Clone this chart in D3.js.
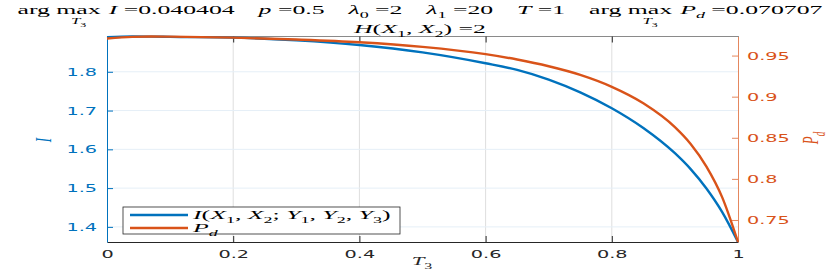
<!DOCTYPE html>
<html>
<head>
<meta charset="utf-8">
<script src="https://cdn.jsdelivr.net/npm/d3@7"></script>
<style>
body { margin: 0; background: #fff; }
text { white-space: pre; }
</style>
</head>
<body>
<div id="chart"></div>
<script>
// values
const t3 = [0, 0.04, 0.07, 0.1, 0.2, 0.3, 0.4, 0.5, 0.6, 0.65, 0.7, 0.75, 0.8, 0.85, 0.9, 0.925, 0.95, 0.975, 1];
const info = [1.889, 1.891, 1.8908, 1.890, 1.888, 1.881, 1.869, 1.850, 1.822, 1.805, 1.780, 1.747, 1.706, 1.655, 1.590, 1.549, 1.499, 1.438, 1.361];
const pd = [0.9708, 0.9727, 0.9732, 0.9730, 0.9718, 0.9695, 0.9662, 0.9606, 0.9517, 0.9452, 0.9370, 0.9265, 0.9120, 0.8920, 0.8630, 0.8425, 0.8150, 0.7775, 0.7232];

const xTicks = [0, 0.2, 0.4, 0.6, 0.8, 1];
const leftTicks = [1.4, 1.5, 1.6, 1.7, 1.8];
const rightTicks = [0.75, 0.8, 0.85, 0.9, 0.95];

const w = 830;
const h = 273;
const m = {left: 107, right: 738, top: 36.5, bottom: 242};
const sx = 1.75;
const blue = '#0072BD';
const orange = '#D95319';
const serif = '"Liberation Serif", "DejaVu Serif", serif';
const sans = '"DejaVu Sans", sans-serif';

const x = d3.scaleLinear([0, 1], [m.left, m.right]);
const yL = d3.scaleLinear([1.361, 1.891], [m.bottom, m.top]);
const yR = d3.scaleLinear([0.7232, 0.9732], [m.bottom, m.top]);

const svg = d3.select('#chart')
    .append('svg')
    .attr('width', w)
    .attr('height', h);

// rich text with italic / subscript parts
function rich(sel, parts, size) {
    const t = sel.append('text')
        .attr('font-family', serif)
        .attr('font-size', size);
    let shift = 0;
    parts.forEach(([s, st]) => {
        const sub = st === 'sub' || st === 'isub';
        const target = sub ? 0.3 * size : 0;
        t.append('tspan')
            .attr('dy', target - shift)
            .attr('font-style', (st === 'i' || st === 'isub') ? 'italic' : 'normal')
            .attr('font-size', sub ? size * 0.7 : size)
            .text(s);
        shift = target;
    });
    return t;
}

// grid
svg.append('g')
    .selectAll('line')
    .data(xTicks.slice(1, -1))
    .join('line')
    .attr('x1', d => x(d)).attr('x2', d => x(d))
    .attr('y1', m.top).attr('y2', m.bottom)
    .attr('stroke', '#dedede');

svg.append('g')
    .selectAll('line')
    .data(leftTicks)
    .join('line')
    .attr('x1', m.left).attr('x2', m.right)
    .attr('y1', d => yL(d)).attr('y2', d => yL(d))
    .attr('stroke', '#e5eff7');

// top border + top ticks
svg.append('line')
    .attr('x1', m.left).attr('x2', m.right)
    .attr('y1', m.top).attr('y2', m.top)
    .attr('stroke', '#8a8a8a');

svg.append('g')
    .attr('transform', 'translate(0,' + m.top + ')')
    .call(d3.axisTop(x).tickValues(xTicks).tickSize(-6).tickFormat(''))
    .call(g => g.select('.domain').remove())
    .call(g => g.selectAll('.tick line').attr('stroke', '#262626'));

function stretchLabels(g, color) {
    g.selectAll('.tick text')
        .attr('font-family', sans)
        .attr('font-size', 11)
        .attr('fill', color)
        .attr('x', function () { return (+d3.select(this).attr('x') || 0) / sx; })
        .attr('transform', 'scale(' + sx + ',1)');
}

// bottom axis
svg.append('g')
    .attr('transform', 'translate(0,' + m.bottom + ')')
    .call(d3.axisBottom(x).tickValues(xTicks).tickSize(-6).tickSizeOuter(0).tickPadding(8).tickFormat(d => d))
    .call(g => g.select('.domain').attr('stroke', '#262626'))
    .call(g => g.selectAll('.tick line').attr('stroke', '#262626'))
    .call(g => stretchLabels(g, '#262626'));

// left axis
svg.append('g')
    .attr('transform', 'translate(' + m.left + ',0)')
    .call(d3.axisLeft(yL).tickValues(leftTicks).tickSize(-6).tickSizeOuter(0).tickPadding(10).tickFormat(d => d))
    .call(g => g.select('.domain').attr('stroke', blue))
    .call(g => g.selectAll('.tick line').attr('stroke', blue))
    .call(g => stretchLabels(g, blue));

// right axis
svg.append('g')
    .attr('transform', 'translate(' + m.right + ',0)')
    .call(d3.axisRight(yR).tickValues(rightTicks).tickSize(-6).tickSizeOuter(0).tickPadding(9).tickFormat(d => d))
    .call(g => g.select('.domain').attr('stroke', '#e4875e'))
    .call(g => g.selectAll('.tick line').attr('stroke', '#e4875e'))
    .call(g => stretchLabels(g, orange));

// curves
const lineI = d3.line()
    .x((d, i) => x(t3[i]))
    .y(d => yL(d))
    .curve(d3.curveMonotoneX);

const lineP = d3.line()
    .x((d, i) => x(t3[i]))
    .y(d => yR(d))
    .curve(d3.curveMonotoneX);

svg.append('path')
    .attr('d', lineI(info))
    .attr('fill', 'none')
    .attr('stroke', blue)
    .attr('stroke-width', 2.4);

svg.append('path')
    .attr('d', lineP(pd))
    .attr('fill', 'none')
    .attr('stroke', orange)
    .attr('stroke-width', 2.4);

// titles
const titleSegs = [
    {argmax: true, gap: 4},
    {parts: [['I', 'i'], [' =0.040404', 'r']], gap: 12},
    {parts: [['p', 'i'], [' =0.5', 'r']], gap: 12},
    {parts: [['λ', 'i'], ['0', 'sub'], [' =2', 'r']], gap: 12},
    {parts: [['λ', 'i'], ['1', 'sub'], [' =20', 'r']], gap: 12},
    {parts: [['T', 'i'], [' =1', 'r']], gap: 12},
    {argmax: true, gap: 4},
    {parts: [['P', 'i'], ['d', 'isub'], [' =0.070707', 'r']], gap: 0}
];

const t1 = svg.append('g');
let cur = 0;
titleSegs.forEach(s => {
    const g = t1.append('g').attr('transform', 'translate(' + cur + ',0)');
    let len;
    if (s.argmax) {
        const t = rich(g, [['arg max', 'r']], 13);
        len = t.node().getComputedTextLength();
        const argW = t.node().getSubStringLength(0, 4);
        const maxW = t.node().getSubStringLength(4, 3);
        rich(g, [['T', 'i'], ['3', 'sub']], 8.5)
            .attr('text-anchor', 'middle')
            .attr('transform', 'translate(' + (argW + maxW / 2) + ',10)');
    } else {
        const t = rich(g, s.parts, 13);
        len = t.node().getComputedTextLength();
    }
    cur += len + s.gap;
});
const tW = cur;
const tsx = 805 / tW;
t1.attr('transform', 'translate(' + (420 - tW * tsx / 2) + ',14) scale(' + tsx + ',1)');

const t2 = svg.append('g')
    .attr('transform', 'translate(420,33) scale(' + tsx + ',1)');
rich(t2, [['H', 'i'], ['(', 'r'], ['X', 'i'], ['1', 'sub'], [', ', 'r'], ['X', 'i'], ['2', 'sub'], [') =2', 'r']], 13)
    .attr('text-anchor', 'middle');

// axis labels
const yl = svg.append('g')
    .attr('transform', 'translate(51,140) scale(' + sx + ',1) rotate(-90)');
rich(yl, [['I', 'i']], 13).attr('text-anchor', 'middle').attr('fill', blue);

const yr = svg.append('g')
    .attr('transform', 'translate(818,138) scale(' + sx + ',1) rotate(-90)');
rich(yr, [['P', 'i'], ['d', 'isub']], 13).attr('text-anchor', 'middle').attr('fill', orange);

const xl = svg.append('g')
    .attr('transform', 'translate(422,265) scale(' + sx + ',1)');
rich(xl, [['T', 'i'], ['3', 'sub']], 13).attr('text-anchor', 'middle').attr('fill', '#262626');

// legend
const leg = svg.append('g');
leg.append('rect')
    .attr('x', 123).attr('y', 207)
    .attr('width', 277).attr('height', 27)
    .attr('fill', '#fff')
    .attr('stroke', '#262626')
    .attr('stroke-width', 0.8);

const legItems = [
    {color: blue, y: 215, parts: [['I', 'i'], ['(', 'r'], ['X', 'i'], ['1', 'sub'], [', ', 'r'], ['X', 'i'], ['2', 'sub'], ['; ', 'r'], ['Y', 'i'], ['1', 'sub'], [', ', 'r'], ['Y', 'i'], ['2', 'sub'], [', ', 'r'], ['Y', 'i'], ['3', 'sub'], [')', 'r']]},
    {color: orange, y: 228, parts: [['P', 'i'], ['d', 'isub']]}
];
legItems.forEach(it => {
    leg.append('line')
        .attr('x1', 130).attr('x2', 188)
        .attr('y1', it.y).attr('y2', it.y)
        .attr('stroke', it.color)
        .attr('stroke-width', 2.4);
    const g = leg.append('g')
        .attr('transform', 'translate(193,' + (it.y + 4) + ') scale(' + tsx + ',1)');
    rich(g, it.parts, 13).attr('fill', '#000');
});
</script>
</body>
</html>
